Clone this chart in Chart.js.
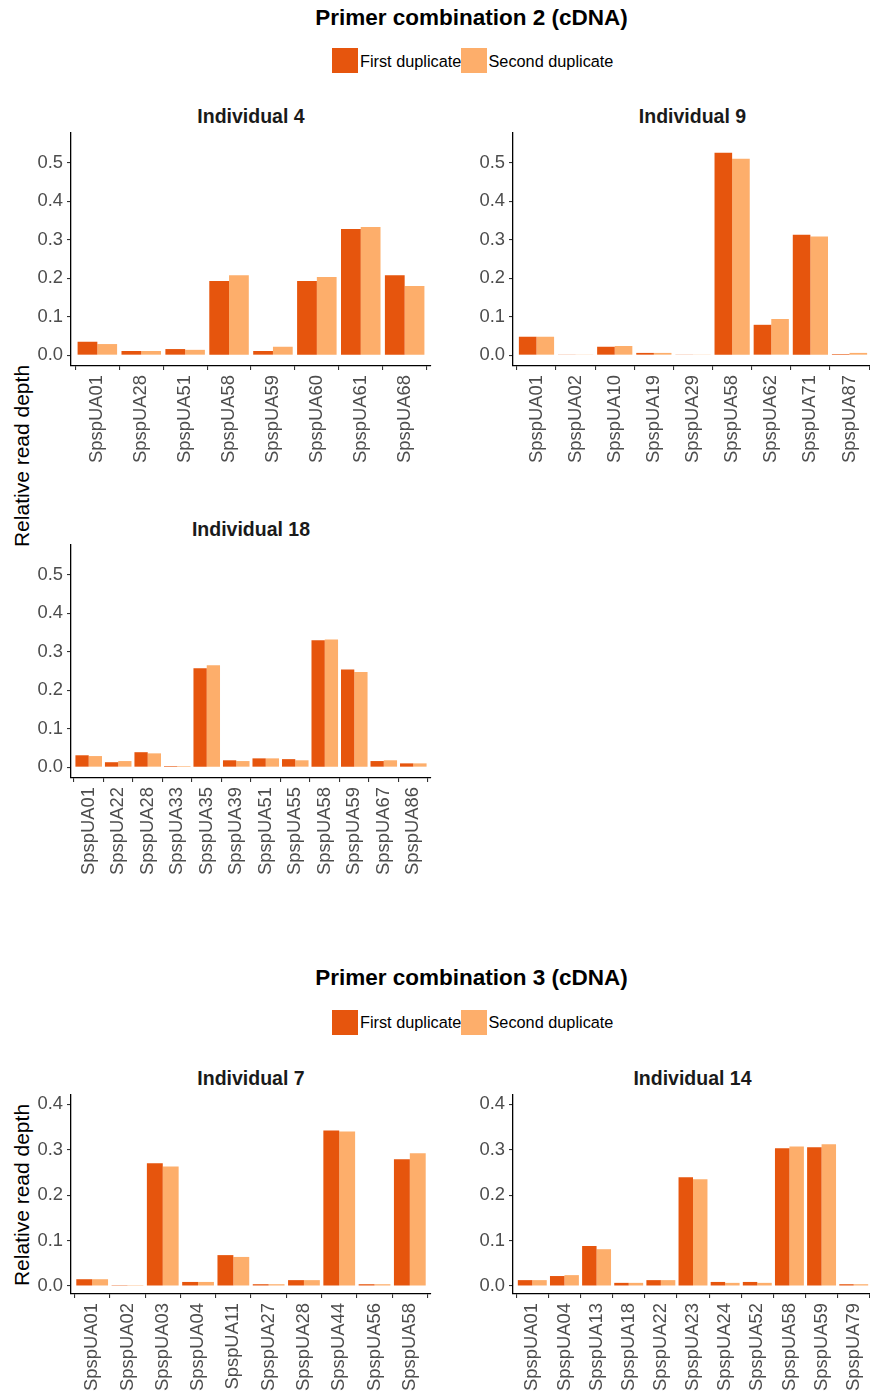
<!DOCTYPE html>
<html>
<head>
<meta charset="utf-8">
<script src="https://cdn.jsdelivr.net/npm/chart.js@4.4.1/dist/chart.umd.min.js"></script>
<style>
  html, body { margin: 0; padding: 0; background: #fff; }
  body { width: 870px; height: 1396px; overflow: hidden; position: relative;
         font-family: "Liberation Sans", Arial, Helvetica, sans-serif; }
  .txt { position: absolute; white-space: nowrap; line-height: 1; }
  .swatch { position: absolute; width: 26px; height: 25px; }
  canvas { position: absolute; }
</style>
</head>
<body>
<script>
// ---- Relative read depth per locus, two PCR duplicates ----
const seriesNames = ['First duplicate', 'Second duplicate'];
const seriesColors = ['#E6550D', '#FDAE6B'];

// Primer combination 2
const ind4Loci = ['SpspUA01','SpspUA28','SpspUA51','SpspUA58','SpspUA59','SpspUA60','SpspUA61','SpspUA68'];
const ind4First = [0.035, 0.011, 0.016, 0.193, 0.011, 0.193, 0.328, 0.208];
const ind4Second = [0.029, 0.011, 0.014, 0.208, 0.022, 0.203, 0.333, 0.180];

const ind9Loci = ['SpspUA01','SpspUA02','SpspUA10','SpspUA19','SpspUA29','SpspUA58','SpspUA62','SpspUA71','SpspUA87'];
const ind9First = [0.048, 0.001, 0.022, 0.006, 0.001, 0.526, 0.079, 0.313, 0.003];
const ind9Second = [0.048, 0.001, 0.024, 0.006, 0.001, 0.510, 0.094, 0.308, 0.006];

const ind18Loci = ['SpspUA01','SpspUA22','SpspUA28','SpspUA33','SpspUA35','SpspUA39','SpspUA51','SpspUA55','SpspUA58','SpspUA59','SpspUA67','SpspUA86'];
const ind18First = [0.031, 0.013, 0.039, 0.003, 0.257, 0.018, 0.023, 0.021, 0.330, 0.254, 0.016, 0.010];
const ind18Second = [0.029, 0.016, 0.036, 0.003, 0.265, 0.016, 0.023, 0.018, 0.332, 0.247, 0.018, 0.010];

// Primer combination 3
const ind7Loci = ['SpspUA01','SpspUA02','SpspUA03','SpspUA04','SpspUA11','SpspUA27','SpspUA28','SpspUA44','SpspUA56','SpspUA58'];
const ind7First = [0.015, 0.002, 0.270, 0.009, 0.068, 0.004, 0.013, 0.342, 0.004, 0.279];
const ind7Second = [0.015, 0.002, 0.263, 0.009, 0.064, 0.004, 0.013, 0.340, 0.004, 0.292];

const ind14Loci = ['SpspUA01','SpspUA04','SpspUA13','SpspUA18','SpspUA22','SpspUA23','SpspUA24','SpspUA52','SpspUA58','SpspUA59','SpspUA79'];
const ind14First = [0.013, 0.022, 0.088, 0.007, 0.013, 0.239, 0.009, 0.009, 0.303, 0.305, 0.004];
const ind14Second = [0.013, 0.024, 0.081, 0.007, 0.013, 0.235, 0.007, 0.007, 0.307, 0.312, 0.004];

// y-axis tick values for each primer combination
const pc2Ticks = [0.0, 0.1, 0.2, 0.3, 0.4, 0.5];
const pc3Ticks = [0.0, 0.1, 0.2, 0.3, 0.4];

const sectionTitles = ['Primer combination 2 (cDNA)', 'Primer combination 3 (cDNA)'];
const yTitle = 'Relative read depth';

// ---- layout ----
const FONT = '"Liberation Sans", Arial, Helvetica, sans-serif';
Chart.defaults.font.family = FONT;
const PANEL_W = 360;   // plotting-area width
const Y_AXIS_W = 60;   // space reserved left of the plotting area
const X_AXIS_H = 112;  // space reserved below it for rotated locus names
const PAD_T = 15, PAD_R = 16;

function addText(str, opts) {
  const d = document.createElement('div');
  d.className = 'txt';
  d.textContent = str;
  Object.assign(d.style, opts);
  document.body.appendChild(d);
  return d;
}

function addSectionHeader(title, baseline, legendCenterY) {
  const cx = 471.5;
  addText(title, { left: cx + 'px', top: (baseline - 0.8465 * 22.5) + 'px',
    transform: 'translateX(-50%)', fontSize: '22.5px', fontWeight: 'bold', color: '#000' });
  // legend: swatch + label pairs
  const swX = [332, 461], txtX = [360, 488.5];
  seriesNames.forEach((name, i) => {
    const s = document.createElement('div');
    s.className = 'swatch';
    s.style.left = swX[i] + 'px';
    s.style.top = (legendCenterY - 12.5) + 'px';
    s.style.background = seriesColors[i];
    document.body.appendChild(s);
    addText(name, { left: txtX[i] + 'px', top: (legendCenterY - 8.15) + 'px',
      fontSize: '16.3px', color: '#000' });
  });
}

function addYTitle(cy) {
  addText(yTitle, { left: '21px', top: cy + 'px', transform: 'translate(-50%,-50%) rotate(-90deg)',
    fontSize: '21px', color: '#000' });
}

function makePanel(p) {
  // panel title, centred over the plotting area
  addText(p.title, { left: (p.left + PANEL_W / 2) + 'px', top: (p.titleBaseline - 0.8465 * 19.5) + 'px',
    transform: 'translateX(-50%)', fontSize: '19.5px', fontWeight: 'bold', color: '#1a1a1a' });

  const c = document.createElement('canvas');
  const w = Y_AXIS_W + PANEL_W + PAD_R;
  const h = PAD_T + p.height + X_AXIS_H;
  c.width = w; c.height = h;
  c.style.width = w + 'px'; c.style.height = h + 'px';
  c.style.left = (p.left - Y_AXIS_W) + 'px';
  c.style.top = (p.top - PAD_T) + 'px';
  document.body.appendChild(c);

  const n = p.loci.length;
  const tickFont = { family: FONT, size: 18.4 };
  new Chart(c, {
    type: 'bar',
    data: {
      datasets: [p.first, p.second].map((vals, k) => ({
        label: seriesNames[k],
        data: vals.map((v, i) => ({ x: i, y: v })),
        backgroundColor: seriesColors[k],
        borderWidth: 0
      }))
    },
    options: {
      responsive: false,
      animation: false,
      devicePixelRatio: 1,
      layout: { padding: { top: PAD_T, right: PAD_R, left: 0, bottom: 0 } },
      plugins: { legend: { display: false }, tooltip: { enabled: false } },
      datasets: { bar: { categoryPercentage: 0.9, barPercentage: 1.0 } },
      scales: {
        x: {
          type: 'linear',
          min: -0.6,
          max: n - 0.4,
          offset: false,
          afterBuildTicks: s => { s.ticks = p.loci.map((_, i) => ({ value: i })); },
          afterFit: s => { s.height = X_AXIS_H; },
          ticks: {
            autoSkip: false, minRotation: 90, maxRotation: 90, padding: 5,
            color: '#4d4d4d', font: tickFont,
            callback: v => p.loci[v]
          },
          grid: { display: true, drawOnChartArea: false, drawTicks: true, tickLength: 4, color: '#333', lineWidth: 1.1 },
          border: { display: true, color: '#000', width: 1.3 }
        },
        y: {
          type: 'linear',
          min: p.yMin,
          max: p.yMax,
          afterBuildTicks: s => { s.ticks = p.yTicks.map(v => ({ value: v })); },
          afterFit: s => { s.width = Y_AXIS_W; },
          ticks: {
            padding: 4, color: '#4d4d4d', font: tickFont,
            callback: v => Number(v).toFixed(1)
          },
          grid: { display: true, drawOnChartArea: false, drawTicks: true, tickLength: 4, color: '#333', lineWidth: 1.1 },
          border: { display: true, color: '#000', width: 1.3 }
        }
      }
    }
  });
}

// ---- Primer combination 2 ----
addSectionHeader(sectionTitles[0], 26, 60.8);
addYTitle(455.5);
makePanel({ title: 'Individual 4', titleBaseline: 124, loci: ind4Loci, first: ind4First, second: ind4Second,
  left: 71, top: 133, height: 233, yMin: -0.028, yMax: 0.577, yTicks: pc2Ticks });
makePanel({ title: 'Individual 9', titleBaseline: 124, loci: ind9Loci, first: ind9First, second: ind9Second,
  left: 512.5, top: 133, height: 233, yMin: -0.028, yMax: 0.577, yTicks: pc2Ticks });
makePanel({ title: 'Individual 18', titleBaseline: 537, loci: ind18Loci, first: ind18First, second: ind18Second,
  left: 71, top: 545, height: 233, yMin: -0.028, yMax: 0.577, yTicks: pc2Ticks });

// ---- Primer combination 3 ----
addSectionHeader(sectionTitles[1], 986, 1022);
addYTitle(1194.5);
makePanel({ title: 'Individual 7', titleBaseline: 1086, loci: ind7Loci, first: ind7First, second: ind7Second,
  left: 71, top: 1095, height: 199, yMin: -0.0175, yMax: 0.42, yTicks: pc3Ticks });
makePanel({ title: 'Individual 14', titleBaseline: 1086, loci: ind14Loci, first: ind14First, second: ind14Second,
  left: 512.5, top: 1095, height: 199, yMin: -0.0175, yMax: 0.42, yTicks: pc3Ticks });
</script>
</body>
</html>
